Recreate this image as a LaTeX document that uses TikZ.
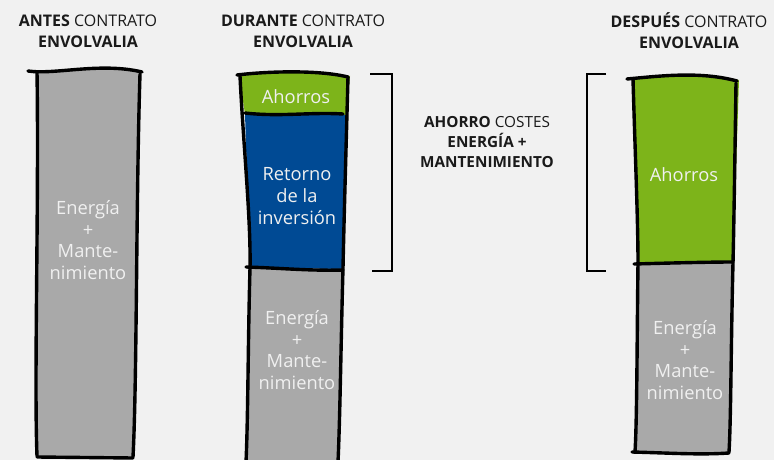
\documentclass[tikz,border=0pt]{standalone}
\usepackage{fontspec}
\setmainfont{Open Sans}
\definecolor{bg}{HTML}{F1F1F1}
\definecolor{bargray}{HTML}{A9A9A9}
\definecolor{bargreen}{HTML}{7DB41A}
\definecolor{barblue}{HTML}{004A94}
\definecolor{bartxt}{HTML}{F0F0F0}
\definecolor{headtxt}{HTML}{1A1A1A}
\tikzset{
  head/.style={align=center, text=headtxt, font=\fontsize{16}{21}\selectfont, inner sep=0pt},
  midtext/.style={align=center, text=headtxt, font=\fontsize{15.3}{20}\selectfont, inner sep=0pt},
  bartext/.style={align=center, text=bartxt, font=\fontsize{18.3}{21.8}\selectfont, inner sep=0pt},
  sketch/.style={line width=3.4pt, line cap=round, line join=round, black},
  bracketline/.style={line width=2.6pt, black, line cap=butt, line join=miter},
}
\begin{document}
\begin{tikzpicture}[x=1pt,y=-1pt]
\useasboundingbox (0,0) rectangle (774,460);
\clip (0,0) rectangle (774,460);
\fill[bg] (0,0) rectangle (774,460);

% ---------- headings ----------
\node[head] (h1) at (88,31) {\textbf{ANTES} CONTRATO\\\textbf{ENVOLVALIA}};
\node[head] (h2) at (303,31) {\textbf{DURANTE} CONTRATO\\\textbf{ENVOLVALIA}};
\node[head] (h3) at (689,31) {\textbf{DESPUÉS} CONTRATO\\\textbf{ENVOLVALIA}};

% ---------- column 1 ----------
\fill[bargray] (36,72) .. controls (60,74) and (100,64) .. (141,72)
  -- (133,457) -- (37,457) -- cycle;
\draw[sketch] (28,71) .. controls (55,75) and (100,62) .. (142,72);
\draw[sketch] (37,72) .. controls (39,200) and (34,380) .. (37,456);
\draw[sketch] (140,74) .. controls (136,200) and (137,380) .. (133,457);
\draw[sketch] (37,457) -- (133,458);
\node[bartext] (t1) at (88,240) {Energía\\+\\Mante-\\nimiento};

% ---------- column 2 ----------
\fill[bargreen] (239,75) .. controls (270,72) and (320,72) .. (350,76)
  -- (346,115) -- (245,114) -- cycle;
\fill[barblue] (245,114) -- (346,115) -- (343,269) -- (250,268) -- cycle;
\fill[bargray] (250,268) -- (343,269) -- (337,462) -- (247,462) -- cycle;
\draw[sketch] (237,75) .. controls (270,71) and (320,70) .. (348,77);
\draw[sketch] (240,76) .. controls (243,140) and (251,220) .. (250,268)
  .. controls (248,340) and (248,420) .. (246,462);
\draw[sketch] (348,77) .. controls (346,150) and (344,220) .. (343,268)
  .. controls (341,340) and (340,420) .. (338,462);
\draw[sketch] (245,113) .. controls (280,117) and (310,112) .. (343,114);
\draw[sketch] (246,267) .. controls (280,268) and (310,271) .. (343,270);
\node[bartext] (t2a) at (296,97) {Ahorros};
\node[bartext] (t2b) at (297,196) {Retorno\\de la\\inversión};
\node[bartext] (t2c) at (297,350) {Energía\\+\\Mante-\\nimiento};

% bracket right of column 2
\coordinate (b2t) at (370,74);
\coordinate (b2b) at (372,271);
\draw[bracketline] (b2t) -- (392,74) -- (392,271) -- (b2b);

% ---------- middle text ----------
\node[midtext] (mid) at (487,142) {\textbf{AHORRO} COSTES\\\textbf{ENERGÍA +}\\\textbf{MANTENIMIENTO}};

% ---------- column 3 ----------
\fill[bargreen] (632,79) .. controls (660,74) and (700,72) .. (739,80)
  -- (733,263) -- (638,264) -- cycle;
\fill[bargray] (638,264) -- (733,263) -- (729,453) -- (635,453) -- cycle;
\draw[sketch] (627,79) .. controls (660,76) and (700,71) .. (737,81);
\draw[sketch] (633,79) .. controls (635,150) and (638,220) .. (638,263)
  .. controls (637,340) and (637,420) .. (635,452);
\draw[sketch] (736,83) .. controls (735,150) and (734,220) .. (733,263)
  .. controls (731,340) and (731,420) .. (729,452);
\draw[sketch] (634,264) .. controls (670,263) and (710,262) .. (733,262);
\draw[sketch] (632,452) .. controls (670,453) and (700,455) .. (729,453);
\node[bartext] (t3a) at (684,175) {Ahorros};
\node[bartext] (t3b) at (685,360) {Energía\\+\\Mante-\\nimiento};

% bracket left of column 3
\coordinate (b3t) at (606,74);
\coordinate (b3b) at (606,271);
\draw[bracketline] (b3t) -- (587,74) -- (587,271) -- (b3b);
\end{tikzpicture}
\end{document}
